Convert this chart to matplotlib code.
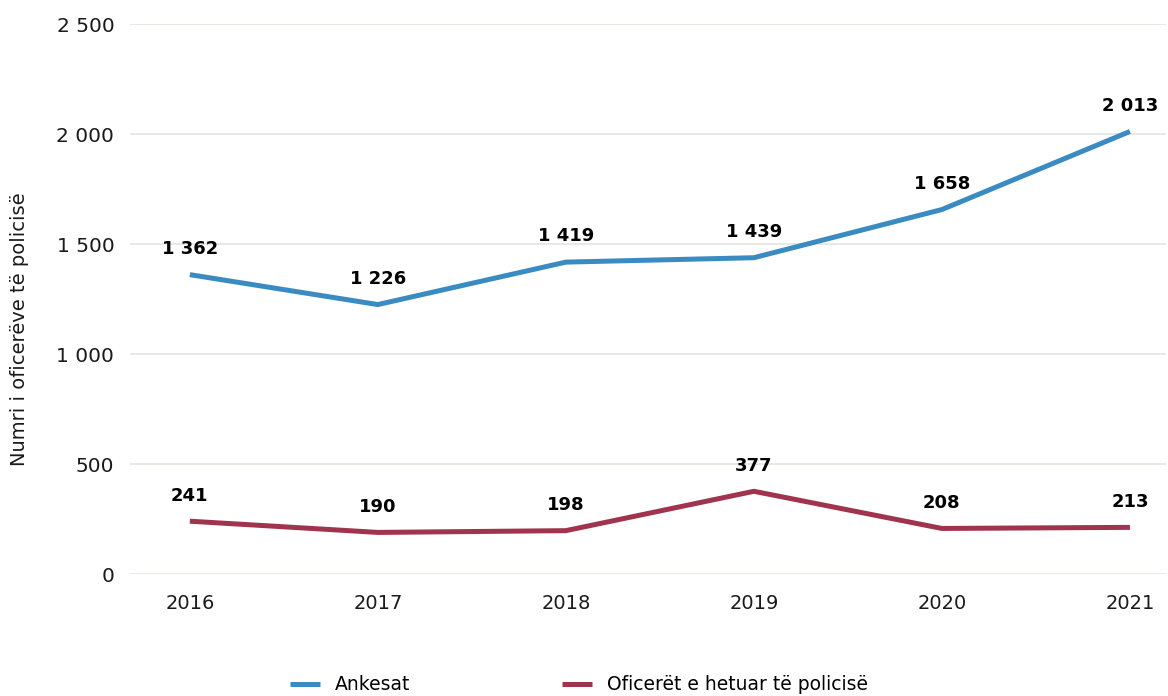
import matplotlib
matplotlib.use("Agg")
from matplotlib import pyplot as plt
from matplotlib.ticker import FuncFormatter

years = ["2016", "2017", "2018", "2019", "2020", "2021"]
ankesat = [1362, 1226, 1419, 1439, 1658, 2013]
oficeret = [241, 190, 198, 377, 208, 213]

BLUE = "#3a8bc1"
RED = "#a0344f"


def fmt(v):
    return f"{int(v):,}".replace(",", " ")


plt.rcParams["font.family"] = ["DejaVu Sans"]
fig = plt.figure(figsize=(11.68, 6.96), dpi=100)
ax = fig.add_axes([0.111, 0.175, 0.887, 0.79])

x = list(range(len(years)))
ax.plot(x, ankesat, color=BLUE, lw=3.6, label="Ankesat", solid_capstyle="butt")
ax.plot(x, oficeret, color=RED, lw=3.6, label="Oficerët e hetuar të policisë",
        solid_capstyle="butt")

for xi, v in zip(x, ankesat):
    ax.annotate(fmt(v), (xi, v), xytext=(0, 12), textcoords="offset points",
                ha="center", va="bottom", fontsize=13, fontweight="bold")
for xi, v in zip(x, oficeret):
    ax.annotate(fmt(v), (xi, v), xytext=(0, 12), textcoords="offset points",
                ha="center", va="bottom", fontsize=13, fontweight="bold")

ax.set_ylim(0, 2500)
ax.set_yticks([0, 500, 1000, 1500, 2000, 2500])
ax.yaxis.set_major_formatter(FuncFormatter(lambda v, p: fmt(v)))
ax.set_xlim(-0.32, 5.19)
ax.set_xticks(x, years)
ax.grid(axis="y", color="#e6e4de", lw=1.2)
ax.set_axisbelow(True)
for s in ax.spines.values():
    s.set_visible(False)
ax.tick_params(length=0, colors="#1a1a1a")
ax.tick_params(axis="x", pad=14, labelsize=14)
ax.tick_params(axis="y", pad=11, labelsize=14.5)
ax.set_ylabel("Numri i oficerëve të policisë", fontsize=14, color="#1a1a1a")
ax.yaxis.set_label_coords(-0.097, 0.445)

fig.legend(loc="lower center", bbox_to_anchor=(0.496, -0.022), ncol=2,
           frameon=False, fontsize=13.5, handlelength=1.6, columnspacing=8.1,
           handletextpad=0.8)

fig.savefig("out.png", dpi=100, facecolor="white")
